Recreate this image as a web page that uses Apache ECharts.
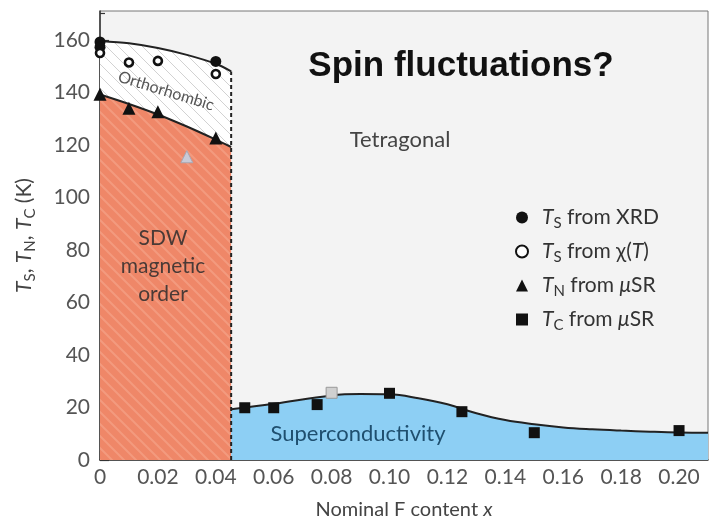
<!DOCTYPE html>
<html>
<head>
<meta charset="utf-8">
<script src="https://cdn.jsdelivr.net/npm/echarts@6/dist/echarts.min.js"></script>
<style>
  html, body { margin: 0; padding: 0; background: #ffffff; }
  #chart { width: 717px; height: 522px; }
</style>
</head>
<body>
<div id="chart"></div>
<script>
// Transition temperatures (K) against nominal F content x
const tsXrd = [[0, 159.2], [0, 157.2], [0.04, 151.8]];
const tsChi = [[0, 155], [0.01, 151.4], [0.02, 152], [0.04, 147]];
const tnMuSR = [[0, 139.3], [0.01, 134], [0.02, 132.6], [0.04, 122.6]];
const tnMuSRGrey = [[0.03, 115.5]];
const tcMuSR = [[0.05, 19.9], [0.06, 19.9], [0.075, 21.1], [0.10, 25.4], [0.125, 18.4], [0.15, 10.4], [0.20, 11.2]];
const tcMuSRGrey = [[0.08, 25.6]];

// Phase boundaries (guide curves)
const xBoundary = 0.0453;
const tsCurve = [[0, 159.6], [0.01, 158.7], [0.02, 156.9], [0.03, 154.3], [0.04, 150.9], [0.0453, 148]];
const tnCurve = [[0, 139.2], [0.01, 135.6], [0.02, 131.6], [0.03, 127], [0.04, 122], [0.0453, 119.2]];
const scCurve = [[0.0453, 19.3], [0.06, 21.4], [0.08, 24.6], [0.09, 25.1], [0.10, 25], [0.11, 23.5],
                 [0.12, 21.2], [0.13, 17.8], [0.14, 15.2], [0.15, 13.6], [0.16, 12.4], [0.17, 11.7],
                 [0.18, 11.2], [0.19, 10.8], [0.20, 10.5], [0.21, 10.4]];

// Axis ticks
const xTickValues = [0, 0.02, 0.04, 0.06, 0.08, 0.10, 0.12, 0.14, 0.16, 0.18, 0.20];
const xTickLabels = ['0', '0.02', '0.04', '0.06', '0.08', '0.10', '0.12', '0.14', '0.16', '0.18', '0.20'];
const yTickValues = [0, 20, 40, 60, 80, 100, 120, 140, 160];
const yTickLabels = ['0', '20', '40', '60', '80', '100', '120', '140', '160'];

// Legend entries
const legendNames = ['tsXrd', 'tsChi', 'tnMuSR', 'tcMuSR'];
const legendTexts = {
  tsXrd: '{i|T}{s|S} from XRD',
  tsChi: '{i|T}{s|S} from \u03C7({i|T})',
  tnMuSR: '{i|T}{s|N} from {i|\u03BC}SR',
  tcMuSR: '{i|T}{s|C} from {i|\u03BC}SR'
};

const FONT = 'Lato, "Open Sans", sans-serif';

// Diagonal hatch fill used for the phase regions
function hatch(base, stripe, size, width) {
  const c = document.createElement('canvas');
  c.width = size; c.height = size;
  const g = c.getContext('2d');
  g.fillStyle = base;
  g.fillRect(0, 0, size, size);
  g.strokeStyle = stripe;
  g.lineWidth = width;
  g.beginPath();
  g.moveTo(-1, -1); g.lineTo(size + 1, size + 1);
  g.moveTo(-1, size - 1); g.lineTo(1, size + 1);
  g.moveTo(size - 1, -1); g.lineTo(size + 1, 1);
  g.stroke();
  return { image: c, repeat: 'repeat' };
}

const chart = echarts.init(document.getElementById('chart'), null, { renderer: 'canvas' });

const subRich = {
  i: { fontStyle: 'italic', fontFamily: FONT, fontSize: 21, color: '#333' },
  s: { fontFamily: FONT, fontSize: 15, color: '#333', padding: [12, 0, 0, 0] }
};

chart.setOption({
  animation: false,
  backgroundColor: '#ffffff',
  grid: {
    left: 100, top: 11, right: 9, bottom: 62,
    containLabel: false, outerBoundsMode: 'none',
    show: true, backgroundColor: '#f3f3f3', borderColor: '#777', borderWidth: 1
  },
  xAxis: {
    type: 'value', min: 0, max: 0.21, interval: 0.02,
    name: 'Nominal F content {i|x}', nameLocation: 'middle', nameGap: 40,
    nameTextStyle: {
      fontFamily: FONT, fontSize: 20, color: '#444',
      rich: { i: { fontStyle: 'italic', fontFamily: FONT, fontSize: 20, color: '#444' } }
    },
    axisLine: { show: true, onZero: false, lineStyle: { color: '#333', width: 1.5 } },
    axisTick: { show: true, inside: true, length: 9, customValues: xTickValues, lineStyle: { color: '#333', width: 1.2 } },
    minorTick: { show: true, splitNumber: 2, length: 5, lineStyle: { color: '#333', width: 1.2 } },
    axisLabel: {
      customValues: xTickValues,
      formatter: v => { const k = xTickValues.findIndex(t => Math.abs(t - v) < 1e-9); return k >= 0 ? xTickLabels[k] : ''; },
      fontFamily: FONT, fontSize: 21, color: '#555', margin: 7
    },
    splitLine: { show: false }
  },
  yAxis: {
    type: 'value', min: 0, max: 171, interval: 20,
    name: '{i|T}{s|S}, {i|T}{s|N}, {i|T}{s|C} (K)', nameLocation: 'middle', nameGap: 62,
    nameTextStyle: {
      fontFamily: FONT, fontSize: 21, color: '#444',
      rich: {
        i: { fontStyle: 'italic', fontFamily: FONT, fontSize: 21, color: '#444' },
        s: { fontFamily: FONT, fontSize: 15, color: '#444', padding: [12, 0, 0, 0] }
      }
    },
    axisLine: { show: true, onZero: false, lineStyle: { color: '#333', width: 1.5 } },
    axisTick: { show: true, inside: true, length: 9, customValues: yTickValues, lineStyle: { color: '#333', width: 1.2 } },
    minorTick: { show: true, splitNumber: 2, length: 5, lineStyle: { color: '#333', width: 1.2 } },
    axisLabel: {
      customValues: yTickValues,
      formatter: v => { const k = yTickValues.indexOf(v); return k >= 0 ? yTickLabels[k] : ''; },
      fontFamily: FONT, fontSize: 21, color: '#555', margin: 10
    },
    splitLine: { show: false }
  },
  legend: {
    data: legendNames,
    orient: 'vertical',
    left: 510, top: 202,
    itemWidth: 12, itemHeight: 12, itemGap: 10,
    formatter: name => legendTexts[name],
    textStyle: { fontFamily: FONT, fontSize: 21, color: '#333', padding: [0, 0, 0, 9], rich: subRich }
  },
  series: [
    {
      name: 'orthorhombic', type: 'line', data: tsCurve, smooth: 0.3, symbol: 'none', z: 2,
      lineStyle: { color: '#222', width: 2 },
      areaStyle: { color: hatch('#ffffff', '#d2d2d2', 12, 1), opacity: 1 },
      silent: true
    },
    {
      name: 'sdw', type: 'line', data: tnCurve, smooth: 0.3, symbol: 'none', z: 3,
      lineStyle: { color: '#222', width: 2 },
      areaStyle: { color: hatch('#ef8768', '#f39a7e', 12, 2), opacity: 1 },
      silent: true
    },
    {
      name: 'sc', type: 'line', data: scCurve, smooth: 0.4, symbol: 'none', z: 3,
      lineStyle: { color: '#222', width: 2 },
      areaStyle: { color: '#8dcff4', opacity: 1 },
      silent: true
    },
    {
      name: 'boundary', type: 'line', data: [[xBoundary, 0], [xBoundary, tsCurve[tsCurve.length - 1][1]]],
      symbol: 'none', z: 4,
      lineStyle: { color: '#222', width: 2, type: [4, 3] },
      silent: true
    },
    {
      name: 'tsXrd', type: 'scatter', data: tsXrd, symbol: 'circle', symbolSize: 11, z: 6,
      itemStyle: { color: '#111', opacity: 1 }
    },
    {
      name: 'tsChi', type: 'scatter', data: tsChi, symbol: 'circle', symbolSize: 8, z: 6,
      itemStyle: { color: '#ffffff', borderColor: '#111', borderWidth: 2.6, opacity: 1 }
    },
    {
      name: 'tnMuSR', type: 'scatter', data: tnMuSR, symbol: 'triangle', symbolSize: 13, z: 6,
      itemStyle: { color: '#111', opacity: 1 }
    },
    {
      name: 'tnGrey', type: 'scatter', data: tnMuSRGrey, symbol: 'triangle', symbolSize: 12, z: 6,
      itemStyle: { color: '#c9cad6', borderColor: '#a8a8b4', borderWidth: 1, opacity: 1 }
    },
    {
      name: 'tcMuSR', type: 'scatter', data: tcMuSR, symbol: 'rect', symbolSize: 11, z: 6,
      itemStyle: { color: '#111', opacity: 1 }
    },
    {
      name: 'tcGrey', type: 'scatter', data: tcMuSRGrey, symbol: 'rect', symbolSize: 11, z: 6,
      itemStyle: { color: '#d0d0d0', borderColor: '#999', borderWidth: 1, opacity: 1 }
    }
  ],
  graphic: [
    {
      type: 'text', x: 461, y: 66, z: 10,
      style: { text: 'Spin fluctuations?', font: 'bold 35px "Liberation Sans", Arial, sans-serif', fill: '#111', align: 'center', verticalAlign: 'middle' }
    },
    {
      type: 'text', x: 400, y: 140, z: 10,
      style: { text: 'Tetragonal', font: '22px ' + FONT, fill: '#444', align: 'center', verticalAlign: 'middle' }
    },
    {
      type: 'text', x: 163, y: 266, z: 10,
      style: { text: 'SDW\nmagnetic\norder', font: '21px ' + FONT, lineHeight: 28, fill: '#4a3a36', align: 'center', verticalAlign: 'middle' }
    },
    {
      type: 'text', x: 358, y: 434, z: 10,
      style: { text: 'Superconductivity', font: '22px ' + FONT, fill: '#1f4f6f', align: 'center', verticalAlign: 'middle' }
    },
    {
      type: 'text', x: 166, y: 91, rotation: -0.3, z: 10,
      style: { text: 'Orthorhombic', font: '16px ' + FONT, fill: '#555', align: 'center', verticalAlign: 'middle' }
    }
  ]
});
</script>
</body>
</html>
